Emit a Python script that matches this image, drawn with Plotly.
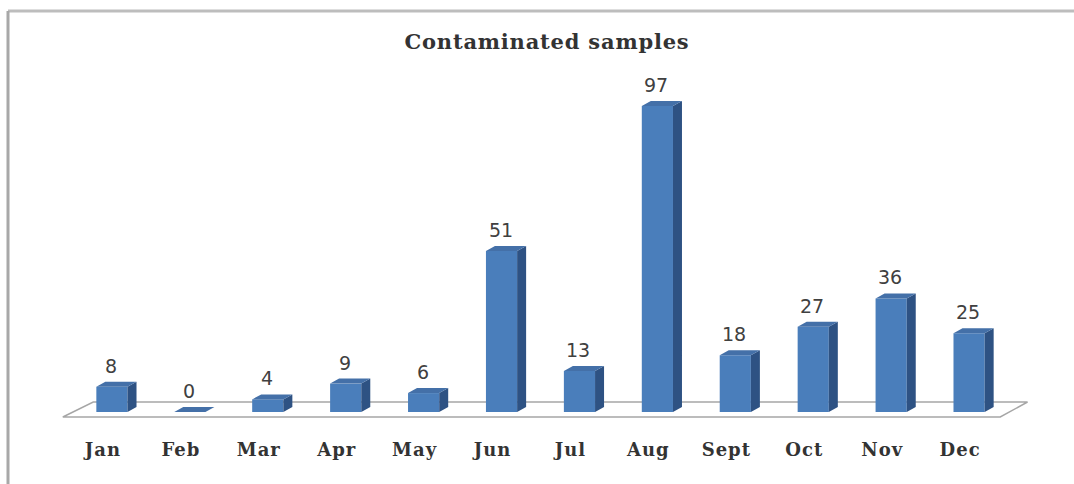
import plotly.graph_objects as go

# Monthly counts of contaminated samples
months = ["Jan", "Feb", "Mar", "Apr", "May", "Jun", "Jul", "Aug", "Sept", "Oct", "Nov", "Dec"]
counts = [8, 0, 4, 9, 6, 51, 13, 97, 18, 27, 36, 25]

# Figure geometry (pixels)
W, H = 1074, 484
ML, MR, MT, MB = 34, 27, 60, 59
PW, PH = W - ML - MR, H - MT - MB
X_RANGE = [-1, 12]
Y_RANGE = [-4.12, 111.57]
px_x = PW / (X_RANGE[1] - X_RANGE[0])
px_y = PH / (Y_RANGE[1] - Y_RANGE[0])

# 3D look: bar width and depth offset of the side/top faces
BAR_W = 0.4
DX = 9 / px_x
DY = 5 / px_y

FRONT = "#4A7EBB"
SIDE = "#2E5283"
TOP = "#4470A8"

xs = list(range(len(months)))

side_x, side_y, top_x, top_y = [], [], [], []
for x, v in zip(xs, counts):
    r = x + BAR_W / 2
    l = x - BAR_W / 2
    side_x += [r, r + DX, r + DX, r, r, None]
    side_y += [0, DY, v + DY, v, 0, None]
    top_x += [l, r, r + DX, l + DX, l, None]
    top_y += [v, v, v + DY, v + DY, v, None]

fig = go.Figure()
fig.add_trace(go.Bar(x=xs, y=counts, width=BAR_W, marker=dict(color=FRONT, line=dict(width=0)),
                     hoverinfo="skip"))
fig.add_trace(go.Scatter(x=side_x, y=side_y, mode="lines", fill="toself", fillcolor=SIDE,
                         line=dict(width=0, color=SIDE), hoverinfo="skip"))
fig.add_trace(go.Scatter(x=top_x, y=top_y, mode="lines", fill="toself", fillcolor=TOP,
                         line=dict(width=0, color=TOP), hoverinfo="skip"))

# Floor of the 3D chart
fl_front, fl_back = -1.58, 3.17
fl_path = (f"M -0.63 {fl_front} L 11.40 {fl_front} L 11.75 {fl_back} "
           f"L -0.24 {fl_back} Z")
shapes = [dict(type="path", path=fl_path, xref="x", yref="y", layer="below",
               line=dict(color="#A6A6A6", width=1.5), fillcolor="white")]

# Outer frame (top and left edges)
def paper_x(p):
    return (p - ML) / PW

def paper_y(p):
    return (H - MB - p) / PH

shapes.append(dict(type="line", xref="paper", yref="paper",
                   x0=paper_x(8), x1=paper_x(W + 5), y0=paper_y(11), y1=paper_y(11),
                   line=dict(color="#BDBDBD", width=3)))
shapes.append(dict(type="line", xref="paper", yref="paper",
                   x0=paper_x(8), x1=paper_x(8), y0=paper_y(11), y1=paper_y(H + 5),
                   line=dict(color="#A8A8A8", width=3)))

annotations = [
    dict(x=x, y=v, text=str(v), showarrow=False, yshift=21, xshift=-1,
         font=dict(family="DejaVu Sans", size=19, color="#404040"))
    for x, v in zip(xs, counts)
]


def heavy(s, px):
    return f'<b><span style="letter-spacing:{px}px">{s}</span></b>'


fig.update_layout(
    width=W, height=H,
    margin=dict(l=ML, r=MR, t=MT, b=MB),
    paper_bgcolor="white", plot_bgcolor="white",
    showlegend=False,
    title=dict(text=heavy("Contaminated samples", 0.8), x=547 / W, xanchor="center",
               y=1 - 42 / H, yanchor="middle", yref="container",
               font=dict(family="DejaVu Serif", size=21, color="#333333")),
    xaxis=dict(range=X_RANGE, tickvals=xs, ticktext=[heavy(m, 1) for m in months],
               showgrid=False, zeroline=False, showline=False, ticks="",
               ticklabelstandoff=12, ticklabelshift=-9,
               tickfont=dict(family="DejaVu Serif", size=18, color="#333333")),
    yaxis=dict(range=Y_RANGE, visible=False),
    shapes=shapes,
    annotations=annotations,
)

fig.write_html("out.html")
